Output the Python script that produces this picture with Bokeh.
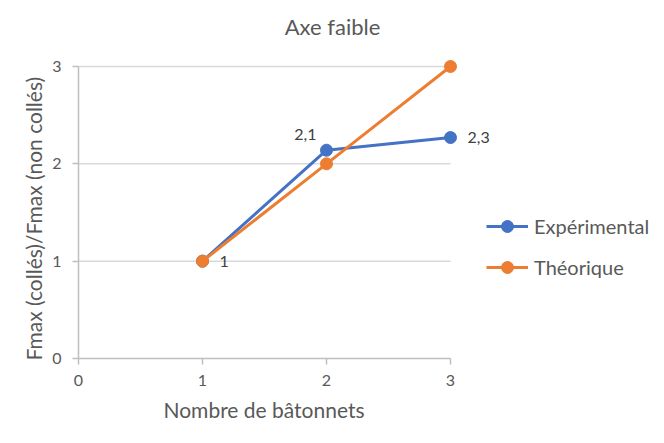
from bokeh.plotting import figure
from bokeh.models import (ColumnDataSource, Legend, LegendItem, LabelSet, Label,
                          FixedTicker, Range1d, Title)
from bokeh.core.properties import value
from bokeh.embed import file_html
from bokeh.resources import INLINE

# ---- data ----
x_vals = [1, 2, 3]
experimental = [1.0, 2.14, 2.27]
theorique = [1.0, 2.0, 3.0]
exp_labels = ["1", "2,1", "2,3"]
x_ticks = [0, 1, 2, 3]
y_ticks = [0, 1, 2, 3]
title_text = "Axe faible"
x_title = "Nombre de bâtonnets"
y_title = "Fmax (collés)/Fmax (non collés)"
series_names = ["Expérimental", "Théorique"]

FONT = "Lato"
TXT = "#595959"
BLUE = "#4472C4"
ORANGE = "#ED7D31"

# frame covers the whole area right of the y axis and above the x axis,
# so that nothing (title, labels, legend) is clipped
p = figure(width=664, height=443, output_backend="svg", toolbar_location=None,
           x_range=Range1d(0, 586 / 124.0), y_range=Range1d(0, 358 / 97.33),
           min_border_left=78, min_border_right=0, min_border_top=0,
           min_border_bottom=85)
p.outline_line_color = None
p.background_fill_color = "white"
p.border_fill_color = "white"

for ax, ticks in ((p.xaxis[0], x_ticks), (p.yaxis[0], y_ticks)):
    ax.ticker = FixedTicker(ticks=ticks)
    ax.bounds = (min(ticks), max(ticks))
    ax.axis_line_color = "#BFBFBF"
    ax.axis_line_width = 1.5
    ax.major_tick_line_color = "#BFBFBF"
    ax.major_tick_line_width = 1.5
    ax.major_tick_out = 6
    ax.major_tick_in = 0
    ax.minor_tick_line_color = None
    ax.major_label_text_font = FONT
    ax.major_label_text_font_size = "16px"
    ax.major_label_text_color = TXT

p.xaxis.major_label_standoff = 10
p.yaxis.major_label_standoff = 11

# axis titles placed as Titles so they centre on the 0..3 axis extent
xt = Title(text=x_title, align="left", offset=85, standoff=13,
           text_font=FONT, text_font_size="21px", text_font_style="normal",
           text_color=TXT)
yt = Title(text=y_title, align="left", offset=-2, standoff=8,
           text_font=FONT, text_font_size="21px", text_font_style="normal",
           text_color=TXT)
p.add_layout(xt, "below")
p.add_layout(yt, "left")

p.xgrid.grid_line_color = None
p.ygrid.grid_line_color = None
grid_y = [t for t in y_ticks if t > 0]
p.segment(x0=[min(x_ticks)] * len(grid_y), x1=[max(x_ticks)] * len(grid_y),
          y0=grid_y, y1=grid_y, line_color="#D9D9D9", line_width=1.5, level="underlay")

src_e = ColumnDataSource(dict(x=x_vals, y=experimental, text=exp_labels,
                              xo=[17, -10, 17], yo=[0, 16, 0],
                              align=["left", "right", "left"]))
src_t = ColumnDataSource(dict(x=x_vals, y=theorique))

l1 = p.line("x", "y", source=src_e, line_color=BLUE, line_width=3)
c1 = p.scatter("x", "y", source=src_e, size=12, fill_color=BLUE, line_color=BLUE)
l2 = p.line("x", "y", source=src_t, line_color=ORANGE, line_width=3)
c2 = p.scatter("x", "y", source=src_t, size=12, fill_color=ORANGE, line_color=ORANGE)

labels = LabelSet(x="x", y="y", text="text", source=src_e, x_offset="xo", y_offset="yo",
                  text_align={"field": "align"}, text_baseline="middle",
                  text_font=value(FONT), text_font_size=value("16px"),
                  text_color="#404040")
p.add_layout(labels)

title = Label(x=(332 - 78) / 124.0, y=(358 - 26) / 97.33, text=title_text,
              text_align="center", text_baseline="middle", text_font=FONT,
              text_font_size="22px", text_color=TXT)
p.add_layout(title)

legend = Legend(items=[LegendItem(label=series_names[0], renderers=[l1, c1]),
                       LegendItem(label=series_names[1], renderers=[l2, c2])],
                location=(408, 76), orientation="vertical")
legend.label_text_font = FONT
legend.label_text_font_size = "20px"
legend.label_text_color = TXT
legend.glyph_width = 42
legend.glyph_height = 30
legend.label_height = 30
legend.label_standoff = 6
legend.spacing = 11
legend.padding = 0
legend.margin = 0
legend.border_line_color = None
legend.background_fill_alpha = 0
p.add_layout(legend)

open("out.html", "w").write(file_html(p, INLINE))
